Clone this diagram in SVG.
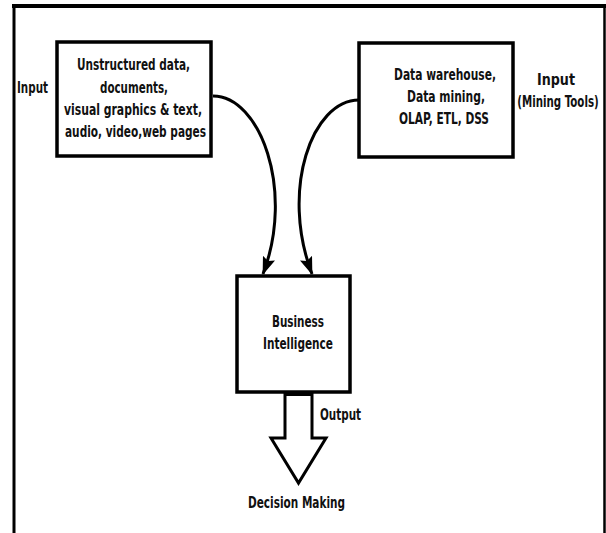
<svg xmlns="http://www.w3.org/2000/svg" width="606" height="533" viewBox="0 0 606 533">
<style>
.box{fill:#fff;stroke:#000;stroke-width:3.5}
.t{font-family:"DejaVu Sans Condensed","DejaVu Sans",sans-serif;font-weight:bold;font-size:16px;fill:#111;text-anchor:middle}
.c{fill:none;stroke:#000;stroke-width:3}
.frame{fill:none;stroke:#000}
</style>
<defs>
<marker id="ah" viewBox="0 0 18 13" refX="17" refY="6.5" markerWidth="18" markerHeight="13" markerUnits="userSpaceOnUse" orient="auto">
<path d="M0,0 L18,6.5 L0,13 L3,6.5 Z" fill="#000"/>
</marker>
</defs>
<rect width="606" height="533" fill="#fff"/>
<g id="frame">
<line class="frame" x1="12" y1="6" x2="606" y2="6" stroke-width="4"/>
<line class="frame" x1="14" y1="4" x2="14" y2="533" stroke-width="3"/>
<line class="frame" x1="604.5" y1="4" x2="604.5" y2="533" stroke-width="2.5"/>
</g>
<g id="connectors">
<path class="c" d="M213,96 C260,96 295,190 263,274" marker-end="url(#ah)"/>
<path class="c" d="M359,100 C312,100 280,190 312,274" marker-end="url(#ah)"/>
</g>
<g id="node-unstructured">
<rect class="box" x="57" y="42" width="154" height="114"/>
<text class="t" x="133.5" y="70" textLength="113" lengthAdjust="spacingAndGlyphs">Unstructured data,</text>
<text class="t" x="134" y="93" textLength="68" lengthAdjust="spacingAndGlyphs">documents,</text>
<text class="t" x="133" y="115" textLength="138" lengthAdjust="spacingAndGlyphs">visual graphics &amp; text,</text>
<text class="t" x="135.5" y="137" textLength="141" lengthAdjust="spacingAndGlyphs">audio, video,web pages</text>
</g>
<g id="label-input-left">
<text class="t" x="32.5" y="93" textLength="31" lengthAdjust="spacingAndGlyphs">Input</text>
</g>
<g id="node-tools">
<rect class="box" x="359" y="43" width="154" height="114"/>
<text class="t" x="445" y="80" textLength="102" lengthAdjust="spacingAndGlyphs">Data warehouse,</text>
<text class="t" x="446" y="102" textLength="78" lengthAdjust="spacingAndGlyphs">Data mining,</text>
<text class="t" x="444" y="124" textLength="90" lengthAdjust="spacingAndGlyphs">OLAP, ETL, DSS</text>
</g>
<g id="label-input-right">
<text class="t" x="556" y="85" textLength="38" lengthAdjust="spacingAndGlyphs">Input</text>
<text class="t" transform="translate(558,107) scale(0.715,1)" x="0" y="0">(Mining Tools)</text>
</g>
<g id="node-bi">
<rect class="box" x="237" y="276" width="113" height="116"/>
<text class="t" x="298" y="327" textLength="52" lengthAdjust="spacingAndGlyphs">Business</text>
<text class="t" x="298" y="349" textLength="70" lengthAdjust="spacingAndGlyphs">Intelligence</text>
</g>
<g id="output-arrow">
<polygon points="285,393 312,393 312,438 326,438 298.5,483 271,438 285,438" fill="#fff" stroke="#000" stroke-width="3"/>
<rect x="285" y="392" width="27" height="4" fill="#000"/>
<text class="t" x="340.5" y="420" textLength="41" lengthAdjust="spacingAndGlyphs">Output</text>
</g>
<g id="node-decision">
<text class="t" x="296.5" y="508" textLength="97" lengthAdjust="spacingAndGlyphs">Decision Making</text>
</g>
</svg>
